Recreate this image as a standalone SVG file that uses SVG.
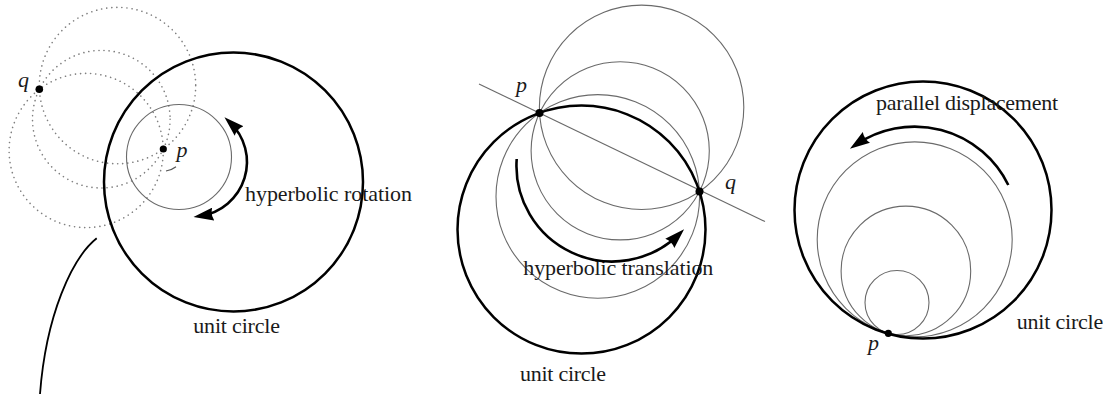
<svg xmlns="http://www.w3.org/2000/svg" width="1109" height="394" viewBox="0 0 1109 394">
<style>
.unit{fill:none;stroke:#000;stroke-width:2.5}
.thin{fill:none;stroke:#6a6a6a;stroke-width:1.1}
.dot{fill:none;stroke:#808080;stroke-width:1.6;stroke-dasharray:0.1 5;stroke-linecap:round}
.arr{fill:none;stroke:#000;stroke-width:2.6}
.pt{fill:#000}
.lbl{font-family:"Liberation Serif","Times New Roman",serif;font-size:22px;fill:#1a1a1a}
.it{font-family:"Liberation Serif","Times New Roman",serif;font-size:22px;font-style:italic;fill:#1a1a1a}
</style>
<defs>
<marker id="ah" markerUnits="userSpaceOnUse" viewBox="0 0 20 13" markerWidth="20" markerHeight="13" refX="13" refY="6.5" orient="auto-start-reverse">
<path d="M0,0 L20,6.5 L0,13 Q3,6.5 0,0 Z" fill="#000"/>
</marker>
</defs>
<rect width="1109" height="394" fill="#fff"/>

<g id="rotation-panel">
<g id="dotted-circles">
<circle class="dot" cx="117.5" cy="85.6" r="78.2"/>
<circle class="dot" cx="101.3" cy="119.2" r="68.8"/>
<circle class="dot" cx="86.2" cy="150.5" r="77.1"/>
</g>
<circle id="rot-circle" class="thin" cx="179" cy="157" r="52.5"/>
<circle id="unit-circle-1" class="unit" cx="233.5" cy="182" r="129.5"/>
<g id="point-p1"><circle class="pt" cx="163.3" cy="149" r="3.6"/><text class="it" x="176.5" y="157">p</text></g>
<g id="point-q1"><circle class="pt" cx="39.3" cy="89.3" r="3.8"/><text class="it" x="18" y="87">q</text></g>
<path d="M166 171 A22 22 0 0 0 176 166.7" fill="none" stroke="#555" stroke-width="1.2"/>
<text class="lbl" x="245" y="201" textLength="167">hyperbolic rotation</text>
<text class="lbl" x="193.3" y="333.3" textLength="86.7">unit circle</text>
</g>

<g id="translation-panel">
<line class="thin" x1="479" y1="84" x2="765" y2="221.5"/>
<circle class="thin" cx="641.6" cy="107.3" r="102.2"/>
<circle class="thin" cx="620.2" cy="150.8" r="89.1"/>
<circle class="thin" cx="597.8" cy="196.4" r="101.8"/>
<circle id="unit-circle-2" class="unit" cx="581.5" cy="229.6" r="124"/>
<g id="point-p2"><circle class="pt" cx="539.5" cy="113" r="4"/><text class="it" x="516" y="91.5">p</text></g>
<g id="point-q2"><circle class="pt" cx="699.5" cy="191.5" r="4"/><text class="it" x="725" y="189">q</text></g>
<text class="lbl" x="523.3" y="275" textLength="190">hyperbolic translation</text>
<text class="lbl" x="520" y="381" textLength="86">unit circle</text>
</g>

<g id="parallel-panel">
<circle class="thin" cx="914.7" cy="239.4" r="97.5"/>
<circle class="thin" cx="905.9" cy="270.9" r="64.8"/>
<circle class="thin" cx="897" cy="302.5" r="32"/>
<circle id="unit-circle-3" class="unit" cx="923" cy="210" r="128.5"/>
<g id="point-p3"><circle class="pt" cx="888.3" cy="333.3" r="3.6"/><text class="it" x="868" y="350">p</text></g>
<text class="lbl" x="876" y="110" textLength="182">parallel displacement</text>
<text class="lbl" x="1016.7" y="329.3" textLength="86.6">unit circle</text>
</g>

<g id="connectors">
<path class="arr" d="M229.6 122.1 A54.5 54.5 0 0 1 200.4 215.9" marker-start="url(#ah)" marker-end="url(#ah)"/>
<path d="M96.7 238.3 C72 258 46 315 40 394" fill="none" stroke="#000" stroke-width="1.8"/>
<path class="arr" d="M516.7 159 A95.7 95.7 0 0 0 679.1 234.2" marker-end="url(#ah)"/>
<path class="arr" d="M1008.3 185 A104.4 104.4 0 0 0 855.7 144.8" marker-end="url(#ah)"/>
</g>
</svg>
